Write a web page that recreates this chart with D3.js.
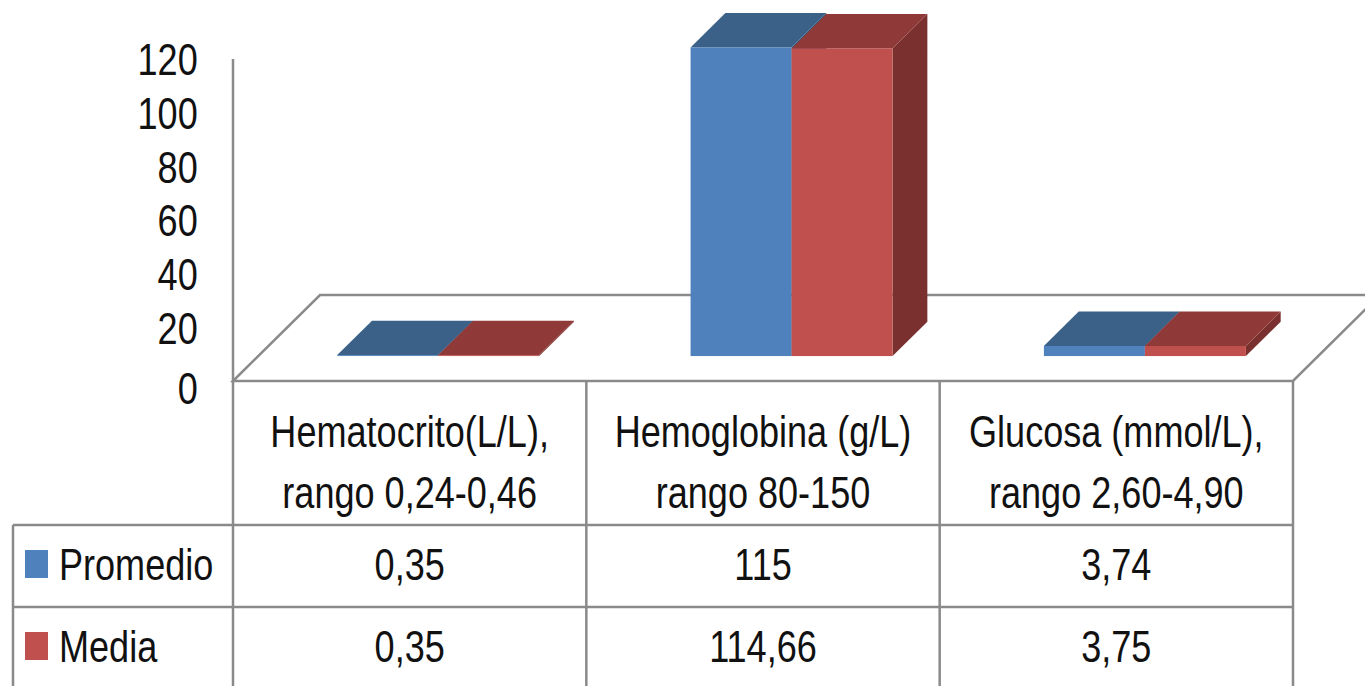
<!DOCTYPE html>
<html>
<head>
<meta charset="utf-8">
<script src="https://cdn.jsdelivr.net/npm/d3@7"></script>
<style>
  html, body { margin: 0; padding: 0; background: #fff; overflow: hidden; }
  svg { display: block; }
  text { font-family: "Liberation Sans", Arial, sans-serif; fill: #111; }
</style>
</head>
<body>
<svg id="chart" width="1365" height="686"></svg>
<script>
// Parameters measured for each category
const categoryLine1 = ["Hematocrito(L/L),", "Hemoglobina (g/L)", "Glucosa (mmol/L),"];
const categoryLine2 = ["rango 0,24-0,46", "rango 80-150", "rango 2,60-4,90"];
const categories = ["Hematocrito", "Hemoglobina", "Glucosa"];

// Series
const seriesNames = ["Promedio", "Media"];
const promedio = [0.35, 115, 3.74];
const media = [0.35, 114.66, 3.75];

// Value axis
const yTicks = [0, 20, 40, 60, 80, 100, 120];

const seriesValues = [promedio, media];
const palette = {
  Promedio: { front: "#4f81bd", top: "#3c6189", side: "#2f4d6e" },
  Media:    { front: "#c0504d", top: "#8f3a38", side: "#7a302e" }
};

const svg = d3.select("#chart");
const FONT = 44, SX = 0.82;        // condensed lettering
const gridColor = "#8a8a8a";

// Plot geometry: oblique 3D projection
const left = 233, right = 1293;
const floorY = 381;
const depth = { dx: 87, dy: -86 };      // full floor depth
const barFront = 0.29, barBack = 0.69;  // depth fractions occupied by the bars

const x = d3.scaleBand().domain(categories).range([left, right]);
const xs = d3.scaleBand().domain(seriesNames).range([79, 281]);
const y = d3.scaleLinear().domain([0, 120]).range([floorY, 59]);

// Floor outline
const floor = [
  [left, floorY],
  [left + depth.dx, floorY + depth.dy],
  [right + depth.dx, floorY + depth.dy],
  [right, floorY]
];
svg.append("path")
  .attr("d", d3.line()(floor) + "Z")
  .attr("fill", "none")
  .attr("stroke", gridColor)
  .attr("stroke-width", 2.5);

// Value axis line
svg.append("line")
  .attr("x1", left).attr("x2", left)
  .attr("y1", y(120)).attr("y2", 686)
  .attr("stroke", gridColor).attr("stroke-width", 2.5);

// Value axis labels
const axis = svg.append("g")
  .attr("transform", "translate(201,0)")
  .call(d3.axisLeft(y).tickValues(yTicks).tickSize(0).tickPadding(0).tickFormat(d3.format("d")));
axis.select(".domain").remove();
axis.selectAll("text")
  .attr("font-size", FONT)
  .attr("font-family", "Liberation Sans, Arial, sans-serif")
  .attr("fill", "#111")
  .attr("x", -4)
  .attr("dy", d => d === 0 ? "0.5em" : "0.36em")
  .attr("transform", `scale(${SX},1)`);

// 3D bars
const f0 = { dx: depth.dx * barFront, dy: depth.dy * barFront };
const f1 = { dx: depth.dx * barBack, dy: depth.dy * barBack };
const bars = svg.append("g");
categories.forEach((cat, ci) => {
  seriesNames.forEach((s, si) => {
    const v = seriesValues[si][ci];
    const x0 = x(cat) + xs(s) + f0.dx;
    const x1 = x0 + xs.bandwidth();
    const yb = y(0) + f0.dy;
    const yt = y(v) + f0.dy;
    const ddx = f1.dx - f0.dx, ddy = f1.dy - f0.dy;
    const c = palette[s];
    // right side
    bars.append("path")
      .attr("d", d3.line()([[x1, yt], [x1 + ddx, yt + ddy], [x1 + ddx, yb + ddy], [x1, yb]]) + "Z")
      .attr("fill", c.side);
    // top
    bars.append("path")
      .attr("d", d3.line()([[x0, yt], [x0 + ddx, yt + ddy], [x1 + ddx, yt + ddy], [x1, yt]]) + "Z")
      .attr("fill", c.top);
    // front
    bars.append("rect")
      .attr("x", x0).attr("y", yt)
      .attr("width", xs.bandwidth()).attr("height", Math.max(0, yb - yt))
      .attr("fill", c.front);
  });
});

// Data table
const tableLeft = 13, headerBottom = 525, rowH = 82;
const table = svg.append("g");
const tableBottom = headerBottom + rowH * 2;
table.append("line")
  .attr("x1", tableLeft).attr("x2", right)
  .attr("y1", headerBottom).attr("y2", headerBottom);
table.append("line")
  .attr("x1", tableLeft).attr("x2", right)
  .attr("y1", headerBottom + rowH).attr("y2", headerBottom + rowH);
table.append("line")
  .attr("x1", tableLeft).attr("x2", right)
  .attr("y1", tableBottom).attr("y2", tableBottom);
table.append("line")
  .attr("x1", tableLeft).attr("x2", tableLeft)
  .attr("y1", headerBottom).attr("y2", tableBottom);
categories.forEach(cat => {
  table.append("line")
    .attr("x1", x(cat) + x.bandwidth()).attr("x2", x(cat) + x.bandwidth())
    .attr("y1", floorY).attr("y2", tableBottom);
});
table.selectAll("line").attr("stroke", gridColor).attr("stroke-width", 2.5);

function label(g, tx, ty, str, anchor) {
  g.append("text")
    .attr("transform", `translate(${tx},${ty}) scale(${SX},1)`)
    .attr("text-anchor", anchor || "middle")
    .attr("font-size", FONT)
    .text(str);
}

// Category headers
categories.forEach((cat, i) => {
  const cx = x(cat) + x.bandwidth() / 2;
  label(table, cx, 447, categoryLine1[i]);
  label(table, cx, 508, categoryLine2[i]);
});

// Series rows with legend keys
const fmt = v => String(v).replace(".", ",");
const baselines = [580, 662];
seriesNames.forEach((s, si) => {
  const base = baselines[si];
  table.append("rect")
    .attr("x", 25).attr("y", base - 30)
    .attr("width", 23).attr("height", 28)
    .attr("fill", palette[s].front);
  label(table, 59, base, s, "start");
  categories.forEach((cat, ci) => {
    label(table, x(cat) + x.bandwidth() / 2, base, fmt(seriesValues[si][ci]));
  });
});
</script>
</body>
</html>
